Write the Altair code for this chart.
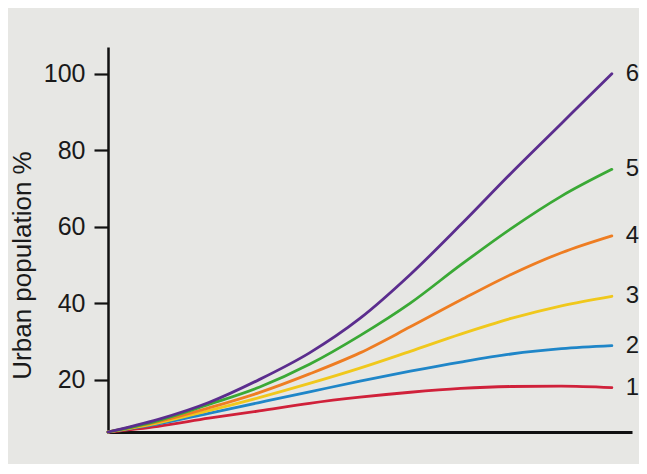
import altair as alt
import pandas as pd

t = [0, 10, 20, 30, 40, 50, 60, 70, 80, 90, 100]
s1 = [6.3, 7.8, 9.9, 11.8, 13.8, 15.4, 16.7, 17.7, 18.2, 18.3, 17.9]
s2 = [6.3, 8.4, 11.2, 14.0, 16.8, 19.6, 22.2, 24.6, 26.7, 28.1, 28.9]
s3 = [6.3, 8.7, 11.9, 15.3, 19.0, 23.0, 27.4, 31.9, 36.0, 39.3, 41.8]
s4 = [6.3, 9.0, 12.6, 16.6, 21.5, 27.0, 33.8, 40.8, 47.5, 53.2, 57.6]
s5 = [6.3, 9.3, 13.5, 18.0, 24.0, 31.5, 40.0, 50.0, 59.5, 68.0, 75.0]
s6 = [6.3, 9.6, 14.0, 20.0, 27.0, 36.0, 47.5, 60.5, 74.0, 87.0, 100.0]
series_names = ["1", "2", "3", "4", "5", "6"]
series_values = [s1, s2, s3, s4, s5, s6]
colors = ["#d0213a", "#1f86c8", "#f0c81c", "#ee7d22", "#3aa935", "#5b2d8e"]
y_ticks = [20, 40, 60, 80, 100]

rows = []
for name, vals in zip(series_names, series_values):
    for tt, v in zip(t, vals):
        rows.append({"t": tt, "v": v, "s": name})
df = pd.DataFrame(rows)
ends = pd.DataFrame({"t": [t[-1]] * 6, "v": [vals[-1] for vals in series_values], "s": series_names})

xs = alt.Scale(domain=[0, 104], nice=False, zero=False)
ys = alt.Scale(domain=[6.3, 107], nice=False, zero=False)

lines = alt.Chart(df).mark_line(interpolate="monotone", strokeWidth=2.8, strokeCap="round").encode(
    x=alt.X("t:Q", scale=xs, axis=alt.Axis(title=None, labels=False, ticks=False, grid=False,
                                           domainColor="#111111", domainWidth=3)),
    y=alt.Y("v:Q", scale=ys, axis=alt.Axis(
        title="Urban population %", values=y_ticks, grid=False,
        domainColor="#111111", domainWidth=2.5, tickColor="#111111", tickWidth=2.2, tickSize=14,
        labelFontSize=25, labelColor="#1a1a1a", labelPadding=9, labelFont="Liberation Sans",
        titleFontSize=26, titleColor="#1a1a1a", titleFont="Liberation Sans", titleFontWeight="normal",
        titleAngle=270, titleX=-86, titleY=218, titleAlign="center", titleBaseline="middle")),
    color=alt.Color("s:N", scale=alt.Scale(domain=series_names, range=colors), legend=None),
)

labels = alt.Chart(ends).mark_text(align="left", baseline="middle", dx=14, fontSize=24,
                                   font="Liberation Sans", color="#1a1a1a").encode(
    x=alt.X("t:Q", scale=xs), y=alt.Y("v:Q", scale=ys), text="s:N")

chart = (lines + labels).properties(
    width=524, height=385,
    autosize=alt.AutoSizeParams(type="none"),
    padding={"left": 100, "top": 39, "right": 7, "bottom": 32},
    background="#e7e7e4",
).configure_view(stroke=None)

chart.save("out.html", embed_options={"renderer": "svg", "actions": False})
